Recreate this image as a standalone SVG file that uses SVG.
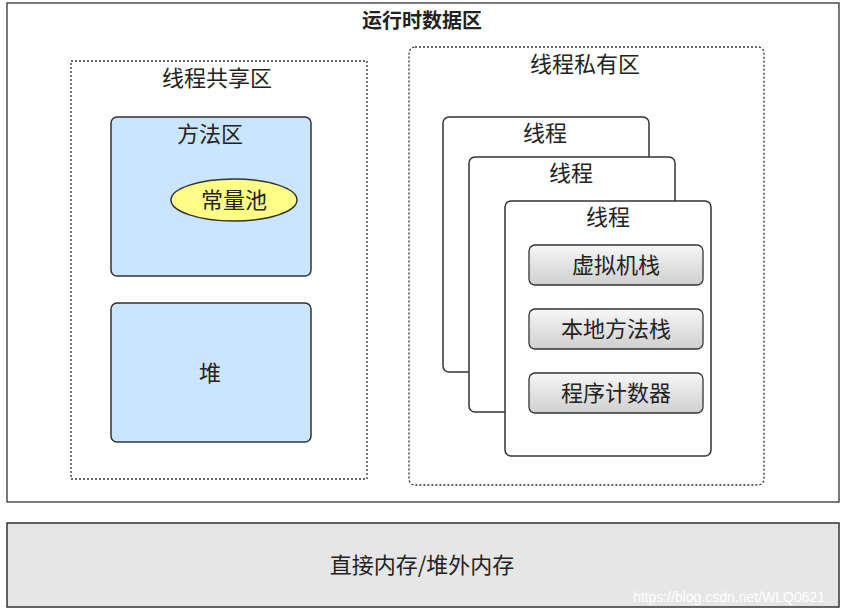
<svg xmlns="http://www.w3.org/2000/svg" width="846" height="614" viewBox="0 0 846 614">
<defs>
<linearGradient id="g" x1="0" y1="0" x2="0" y2="1"><stop offset="0" stop-color="#f7f7f7"/><stop offset="1" stop-color="#cfcfcf"/></linearGradient>
</defs>
<style>
text{font-family:"Noto Sans CJK SC","Noto Sans",sans-serif;fill:#222;text-anchor:middle}
.t{font-size:22px}
.zone{fill:none;stroke:#333;stroke-width:1.3;stroke-dasharray:2 2}
.blue{fill:#cce5ff;stroke:#333;stroke-width:1.5}
.thr{fill:#fff;stroke:#333;stroke-width:1.5}
.btn{fill:url(#g);stroke:#333;stroke-width:1.3}
</style>
<rect width="846" height="614" fill="#fff"/>
<g id="runtime"><rect x="7" y="3" width="832" height="499" fill="#fff" stroke="#333" stroke-width="1.3"/><text x="422" y="28" font-size="20" font-weight="bold">运行时数据区</text></g>
<g id="shared"><rect class="zone" x="71" y="61" width="296" height="418"/><text class="t" x="217" y="86">线程共享区</text></g>
<g id="method"><rect class="blue" x="111" y="117" width="200" height="159" rx="6"/><text class="t" x="210" y="142">方法区</text></g>
<g id="pool"><ellipse cx="234" cy="200" rx="63" ry="21" fill="#ffff88" stroke="#333" stroke-width="1.5"/><text class="t" x="234" y="208">常量池</text></g>
<g id="heap"><rect class="blue" x="111" y="303" width="200" height="139" rx="6"/><text class="t" x="210" y="381">堆</text></g>
<g id="private"><rect class="zone" x="409" y="47" width="355" height="438" rx="6"/><text class="t" x="585" y="72">线程私有区</text></g>
<g id="thread1"><rect class="thr" x="443" y="117" width="206" height="255" rx="6"/><text class="t" x="545" y="141">线程</text></g>
<g id="thread2"><rect class="thr" x="469" y="157" width="206" height="255" rx="6"/><text class="t" x="571" y="181">线程</text></g>
<g id="thread3"><rect class="thr" x="505" y="201" width="206" height="255" rx="6"/><text class="t" x="608" y="225">线程</text></g>
<g id="vmstack"><rect class="btn" x="529" y="245" width="174" height="40" rx="6"/><text class="t" x="616" y="273">虚拟机栈</text></g>
<g id="native"><rect class="btn" x="529" y="309" width="174" height="40" rx="6"/><text class="t" x="616" y="337">本地方法栈</text></g>
<g id="pc"><rect class="btn" x="529" y="373" width="174" height="40" rx="6"/><text class="t" x="616" y="401">程序计数器</text></g>
<g id="direct"><rect x="7" y="523" width="832" height="84" fill="#e6e6e6" stroke="#333" stroke-width="1.5"/><text class="t" x="422" y="573">直接内存/堆外内存</text></g>
<g id="connectors"></g>
<text x="729" y="602" font-size="14" style="fill:#fff;font-family:'Liberation Sans',sans-serif">https://blog.csdn.net/WLQ0621</text>
</svg>
